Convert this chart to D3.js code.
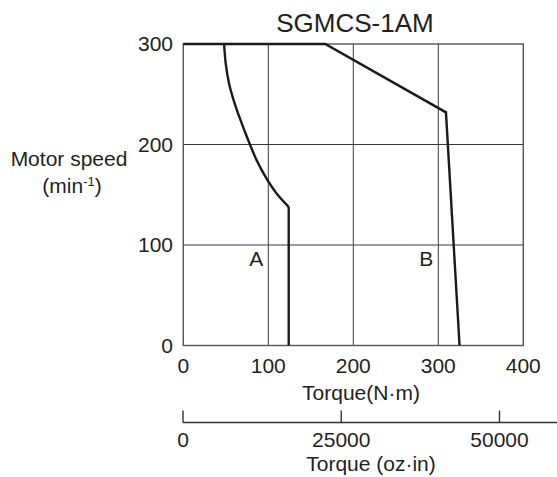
<!DOCTYPE html>
<html><head><meta charset="utf-8">
<script src="https://cdn.jsdelivr.net/npm/d3@7"></script>
<style>body{margin:0;background:#fff}svg text{font-family:Arial,"Liberation Sans",sans-serif;fill:#231f20}</style>
</head><body><svg id="c" width="557" height="477"></svg>
<script>
const title = "SGMCS-1AM";
const xTicks = [0, 100, 200, 300, 400];
const yTicks = [0, 100, 200, 300];
const ozTicks = [0, 25000, 50000];
// Curve A (continuous): arc part then vertical part [torque N·m, speed min-1]
const curveAArc = [[48,300],[50,280],[54,260],[60,242],[67,225],[77,203],[87,183],[98,166],[110,151],[124,138]];
const curveAVert = [[124,138],[124,0]];
// Curve B (intermittent)
const curveB = [[0,300],[167,300],[309,232],[325,0]];
const labels = [{t:"A", x:100, y:79}, {t:"B", x:300, y:79}];

const svg = d3.select("#c");
const x = d3.scaleLinear().domain([0,400]).range([183.3,523.3]);
const y = d3.scaleLinear().domain([0,300]).range([345.5,44]);
const xo = d3.scaleLinear().domain([0,50000]).range([183,499.5]);
const FS = 21;

const g = svg.append("g");
g.selectAll(".gx").data(xTicks.slice(1,-1)).join("line")
  .attr("x1",d=>x(d)).attr("x2",d=>x(d)).attr("y1",y(0)).attr("y2",y(300))
  .attr("stroke","#3a3a3a").attr("stroke-width",1);
g.selectAll(".gy").data(yTicks.slice(1,-1)).join("line")
  .attr("y1",d=>y(d)).attr("y2",d=>y(d)).attr("x1",x(0)).attr("x2",x(400))
  .attr("stroke","#3a3a3a").attr("stroke-width",1);
g.append("rect").attr("x",x(0)).attr("y",y(300)).attr("width",x(400)-x(0)).attr("height",y(0)-y(300))
  .attr("fill","none").attr("stroke","#555").attr("stroke-width",1.4);

const lineSmooth = d3.line().x(d=>x(d[0])).y(d=>y(d[1])).curve(d3.curveCatmullRom.alpha(0.5));
const lineStraight = d3.line().x(d=>x(d[0])).y(d=>y(d[1]));
const stroke = p=>p.attr("fill","none").attr("stroke","#1a1a1a").attr("stroke-width",2.4).attr("stroke-linejoin","miter");
g.append("path").attr("d",lineSmooth(curveAArc)).call(stroke);
g.append("path").attr("d",lineStraight(curveAVert)).call(stroke);
g.append("path").attr("d",lineStraight(curveB)).call(stroke);

g.selectAll(".lab").data(labels).join("text")
  .attr("x",d=>x(d.x)-5).attr("y",d=>y(d.y)).attr("text-anchor","end")
  .attr("font-size",FS).text(d=>d.t);

g.selectAll(".xt").data(xTicks).join("text")
  .attr("x",d=>x(d)).attr("y",373).attr("text-anchor","middle").attr("font-size",FS).text(d=>d);
g.selectAll(".yt").data(yTicks).join("text")
  .attr("x",173).attr("y",d=>y(d)+7).attr("text-anchor","end").attr("font-size",FS).text(d=>d);

svg.append("text").attr("x",355).attr("y",31.5).attr("text-anchor","middle").attr("font-size",26).text(title);
svg.append("text").attr("x",361).attr("y",400).attr("text-anchor","middle").attr("font-size",FS).text("Torque(N·m)");
svg.append("text").attr("x",69).attr("y",166).attr("text-anchor","middle").attr("font-size",FS).text("Motor speed");
const yl2 = svg.append("text").attr("x",72).attr("y",193).attr("text-anchor","middle").attr("font-size",FS);
yl2.append("tspan").text("(min");
yl2.append("tspan").attr("font-size",13).attr("dy",-7).text("-1");
yl2.append("tspan").attr("dy",7).text(")");

const ax = svg.append("g");
ax.append("line").attr("x1",xo(0)).attr("x2",557).attr("y1",422.5).attr("y2",422.5).attr("stroke","#333").attr("stroke-width",1.4);
ax.selectAll(".ot").data(ozTicks).join("line")
  .attr("x1",d=>xo(d)).attr("x2",d=>xo(d)).attr("y1",410.5).attr("y2",422.5).attr("stroke","#333").attr("stroke-width",1.4);
ax.selectAll(".ol").data(ozTicks).join("text")
  .attr("x",d=>xo(d)).attr("y",446.5).attr("text-anchor","middle").attr("font-size",FS).text(d=>d);
svg.append("text").attr("x",371).attr("y",471).attr("text-anchor","middle").attr("font-size",FS).text("Torque (oz·in)");
</script></body></html>
